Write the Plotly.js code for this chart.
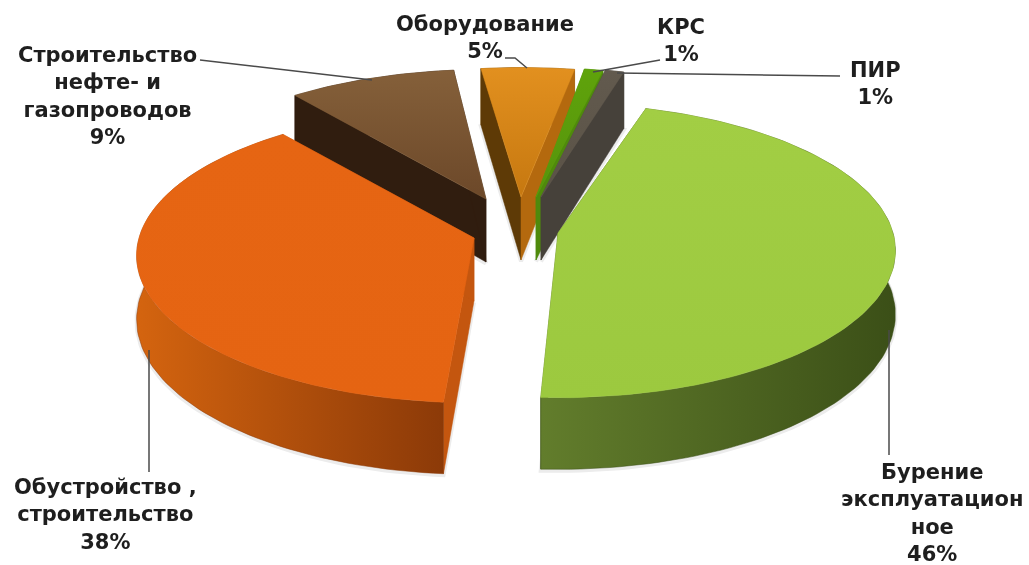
<!DOCTYPE html>
<html>
<head>
<meta charset="utf-8">
<script src="https://cdn.plot.ly/plotly-3.0.1.min.js"></script>
<style>html,body{margin:0;padding:0;background:#fff}#chart{width:1029px;height:565px;filter:blur(0.5px)}</style>
</head>
<body>
<div id="chart"></div>
<script>
// Data, in the chart's clockwise order, starting from the largest slice
const categories = ['Бурение<br>эксплуатацион<br>ное', 'Обустройство ,<br>строительство', 'Строительство<br>нефте- и<br>газопроводов', 'Оборудование', 'КРС', 'ПИР'];
const values = [46, 38, 9, 5, 1, 1];

// Styling per slice
const topColors = [
  ['#a2ce44', '#9cc93f'], ['#e66513', '#e56412'], ['#85603a', '#6c4829'],
  ['#e2901f', '#c67810'], ['#5fa30b', '#56930c'], ['#625a4e', '#5a5246']
];
const wallStartColors = ['#4a6320', '#c4560f', '#301d0f', '#5e3a06', '#4f8a0c', '#46413a'];
const wallEndColors = ['#4a6320', '#c4560f', '#301d0f', '#b4690e', '#4f8a0c', '#46413a'];
const rimColors = [['#627d2c', '#3b4f17'], ['#d4640f', '#8c3a08'], ['#301d0f', '#301d0f'],
  ['#7a4d08', '#7a4d08'], ['#4f8a0c', '#4f8a0c'], ['#46413a', '#46413a']];
const apexX = [558, 474, 486, 521, 536, 541];
const apexY = [233, 238, 199, 197, 197, 197];
const angleTweak = [0, 2, 2, 0.5, -0.5, -1];
const drawOrder = [3, 4, 5, 2, 1, 0];

// Projection of the tilted pie
const startAngle = 17, rx = 335, ry = 145, persp = 0.12, depth = 63;

// Labels
const labelX = [932, 105, 107, 485, 681, 875];
const labelY = [513, 514, 96, 37, 40, 83];
const leaders = [
  {x: [889, 889], y: [330, 455]},
  {x: [149, 149], y: [350, 472]},
  {x: [200, 372], y: [60, 80]},
  {x: [505, 515, 527], y: [58, 58, 68]},
  {x: [660, 593], y: [60, 72]},
  {x: [840, 617], y: [76, 73]}
];

const total = values.reduce((a, b) => a + b, 0);
function project(i, deg, down) {
  const t = deg * Math.PI / 180, X = Math.sin(t), Y = Math.cos(t), s = 1 / (1 + persp * Y);
  return [apexX[i] + rx * X * s, apexY[i] - ry * Y * s + (down ? depth * s : 0)];
}
function apex(i, down) { return [apexX[i], apexY[i] + (down ? depth : 0)]; }
function arc(i, a0, a1, down) {
  const n = Math.max(3, Math.ceil((a1 - a0) / 1.5)), pts = [];
  for (let k = 0; k <= n; k++) pts.push(project(i, a0 + (a1 - a0) * k / n, down));
  return pts;
}
function poly(pts, style) {
  const p = pts.concat([pts[0]]);
  return Object.assign({
    type: 'scatter', mode: 'lines', x: p.map(q => q[0]), y: p.map(q => q[1]),
    fill: 'toself', line: {width: 0.5, color: style.fillcolor || 'rgba(0,0,0,0)'},
    hoverinfo: 'skip', showlegend: false
  }, style);
}
const ranges = [];
let cum = startAngle;
values.forEach((v, i) => {
  const span = v / total * 360;
  ranges.push([cum + angleTweak[i], cum + span + angleTweak[i]]);
  cum += span;
});

const shadows = [], slices = [];
drawOrder.forEach(i => {
  const [a0, a1] = ranges[i];
  const topArc = arc(i, a0, a1, false), botArc = arc(i, a0, a1, true);
  // soft shadow
  const sil = [apex(i, true)].concat(botArc);
  shadows.push(Object.assign(poly(sil.map(q => [q[0], q[1] + 1.5]), {fillcolor: '#e2e2e2'}),
    {line: {width: 4, color: '#ececec'}}));
  const rim = poly(topArc.concat(botArc.slice().reverse()), {
    fillcolor: rimColors[i][1],
    fillgradient: {type: 'horizontal', colorscale: [[0, rimColors[i][0]], [1, rimColors[i][1]]]}
  });
  const rimInFront = Math.cos((a0 + a1) / 2 * Math.PI / 180) < 0;
  if (!rimInFront) slices.push(rim);
  // radial walls
  [[a0, wallStartColors[i]], [a1, wallEndColors[i]]].forEach(([a, color]) => {
    const o = project(i, a, false), od = project(i, a, true);
    slices.push(poly([apex(i, false), o, od, apex(i, true)], {fillcolor: color}));
  });
  if (rimInFront) slices.push(rim);
  // top face
  slices.push(poly([apex(i, false)].concat(topArc), {
    fillcolor: topColors[i][0],
    fillgradient: {type: 'vertical', colorscale: [[0, topColors[i][1]], [1, topColors[i][0]]]}
  }));
});
const leaderTraces = leaders.map(l => ({
  type: 'scatter', mode: 'lines', x: l.x, y: l.y,
  line: {color: '#4a4a4a', width: 1.5}, hoverinfo: 'skip', showlegend: false
}));
const annotations = categories.map((c, i) => ({
  x: labelX[i], y: labelY[i], xref: 'x', yref: 'y', showarrow: false,
  text: c + '<br>' + values[i] + '%', align: 'center', xanchor: 'center', yanchor: 'middle',
  font: {family: '"DejaVu Sans", sans-serif', size: 21, color: '#1e1e1e', weight: 700}
}));
Plotly.newPlot('chart', shadows.concat(slices, leaderTraces), {
  width: 1029, height: 565, margin: {l: 0, r: 0, t: 0, b: 0},
  paper_bgcolor: '#fff', plot_bgcolor: '#fff',
  xaxis: {range: [0, 1029], visible: false, fixedrange: true},
  yaxis: {range: [565, 0], visible: false, fixedrange: true},
  annotations: annotations, showlegend: false
}, {displayModeBar: false, staticPlot: true});
</script>
</body>
</html>
